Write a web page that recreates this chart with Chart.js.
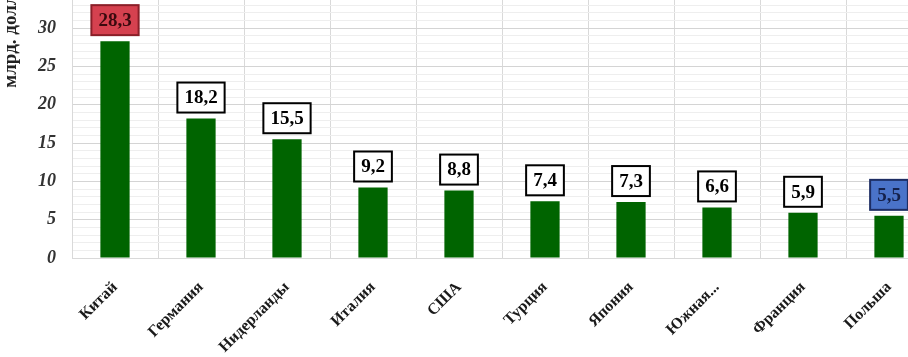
<!DOCTYPE html>
<html lang="ru">
<head>
<meta charset="utf-8">
<title>Импорт по странам</title>
<script src="https://cdn.jsdelivr.net/npm/chart.js@4.4.1/dist/chart.umd.min.js"></script>
<style>
  html, body { margin: 0; padding: 0; background: #fff; overflow: hidden; }
  #wrap { position: absolute; left: 0; top: -37px; }
</style>
</head>
<body>
<div id="wrap"><canvas id="chart" width="935" height="400"></canvas></div>
<script>
// ===============================
// Данные
// ===============================
const countries = ["Китай", "Германия", "Нидерланды", "Италия", "США", "Турция", "Япония", "Южная...", "Франция", "Польша"];
const values = [28.3, 18.2, 15.5, 9.2, 8.8, 7.4, 7.3, 6.6, 5.9, 5.5];
const yTicks = [0, 5, 10, 15, 20, 25, 30];
const axisTitle = "млрд. долл.";

// подсветка отдельных подписей: первая и последняя
const labelFill = ["#d5414f", null, null, null, null, null, null, null, null, "#4a73c9"];
const labelStroke = ["#8a1f28", "#000", "#000", "#000", "#000", "#000", "#000", "#000", "#000", "#1d2d63"];
const labelText = ["#3a0a0e", "#000", "#000", "#000", "#000", "#000", "#000", "#000", "#000", "#14204a"];

// ===============================
// Подписи значений в рамках
// ===============================
const boxLabels = {
  id: "boxLabels",
  afterDatasetsDraw(chart) {
    const ctx = chart.ctx;
    const meta = chart.getDatasetMeta(0);
    ctx.save();
    ctx.font = "bold 19px 'Liberation Serif', serif";
    ctx.textAlign = "center";
    ctx.textBaseline = "middle";
    meta.data.forEach((bar, i) => {
      const txt = values[i].toFixed(1).replace(".", ",");
      const w = ctx.measureText(txt).width + 14;
      const h = 30;
      const x = bar.x - w / 2;
      const y = bar.y - 6 - h;
      ctx.fillStyle = labelFill[i] || "#fff";
      ctx.fillRect(x, y, w, h);
      ctx.lineWidth = 2;
      ctx.strokeStyle = labelStroke[i];
      ctx.strokeRect(x, y, w, h);
      ctx.fillStyle = labelText[i];
      ctx.fillText(txt, bar.x, y + h / 2 + 1);
    });
    ctx.restore();
  }
};

// ===============================
// График
// ===============================
new Chart(document.getElementById("chart"), {
  type: "bar",
  data: {
    labels: countries,
    datasets: [{
      data: values,
      backgroundColor: "#006400",
      categoryPercentage: 1,
      barPercentage: 0.34
    }]
  },
  options: {
    responsive: false,
    animation: false,
    layout: { padding: { top: 10, right: 3, left: 0, bottom: 0 } },
    plugins: {
      legend: { display: false },
      tooltip: { enabled: false }
    },
    scales: {
      x: {
        afterFit: s => { s.height = 105; },
        grid: { color: "#d9d9d9", drawTicks: false },
        border: { color: "#d9d9d9" },
        ticks: {
          color: "#1a1a1a",
          font: { family: "'Liberation Serif', serif", size: 16, weight: "bold" },
          minRotation: 45,
          maxRotation: 45,
          padding: 20
        }
      },
      y: {
        min: 0,
        max: 35,
        afterFit: s => { s.width = 72; },
        afterBuildTicks: s => {
          const t = [];
          for (let v = 0; v <= 35; v++) t.push({ value: v });
          s.ticks = t;
        },
        grid: {
          drawTicks: false,
          color: c => yTicks.includes(c.tick.value) ? "#d4d4d4" : "#eeeeee"
        },
        border: { color: "#d9d9d9" },
        ticks: {
          color: "#333",
          padding: 16,
          autoSkip: false,
          font: { family: "'Liberation Serif', serif", size: 18, weight: "bold", style: "italic" },
          callback: v => yTicks.includes(v) ? v : ""
        },
        title: {
          display: true,
          text: axisTitle,
          align: "end",
          color: "#222",
          font: { family: "'Liberation Serif', serif", size: 19, weight: "bold" },
          padding: { top: 0, bottom: 0 }
        }
      }
    }
  },
  plugins: [boxLabels]
});
</script>
</body>
</html>
